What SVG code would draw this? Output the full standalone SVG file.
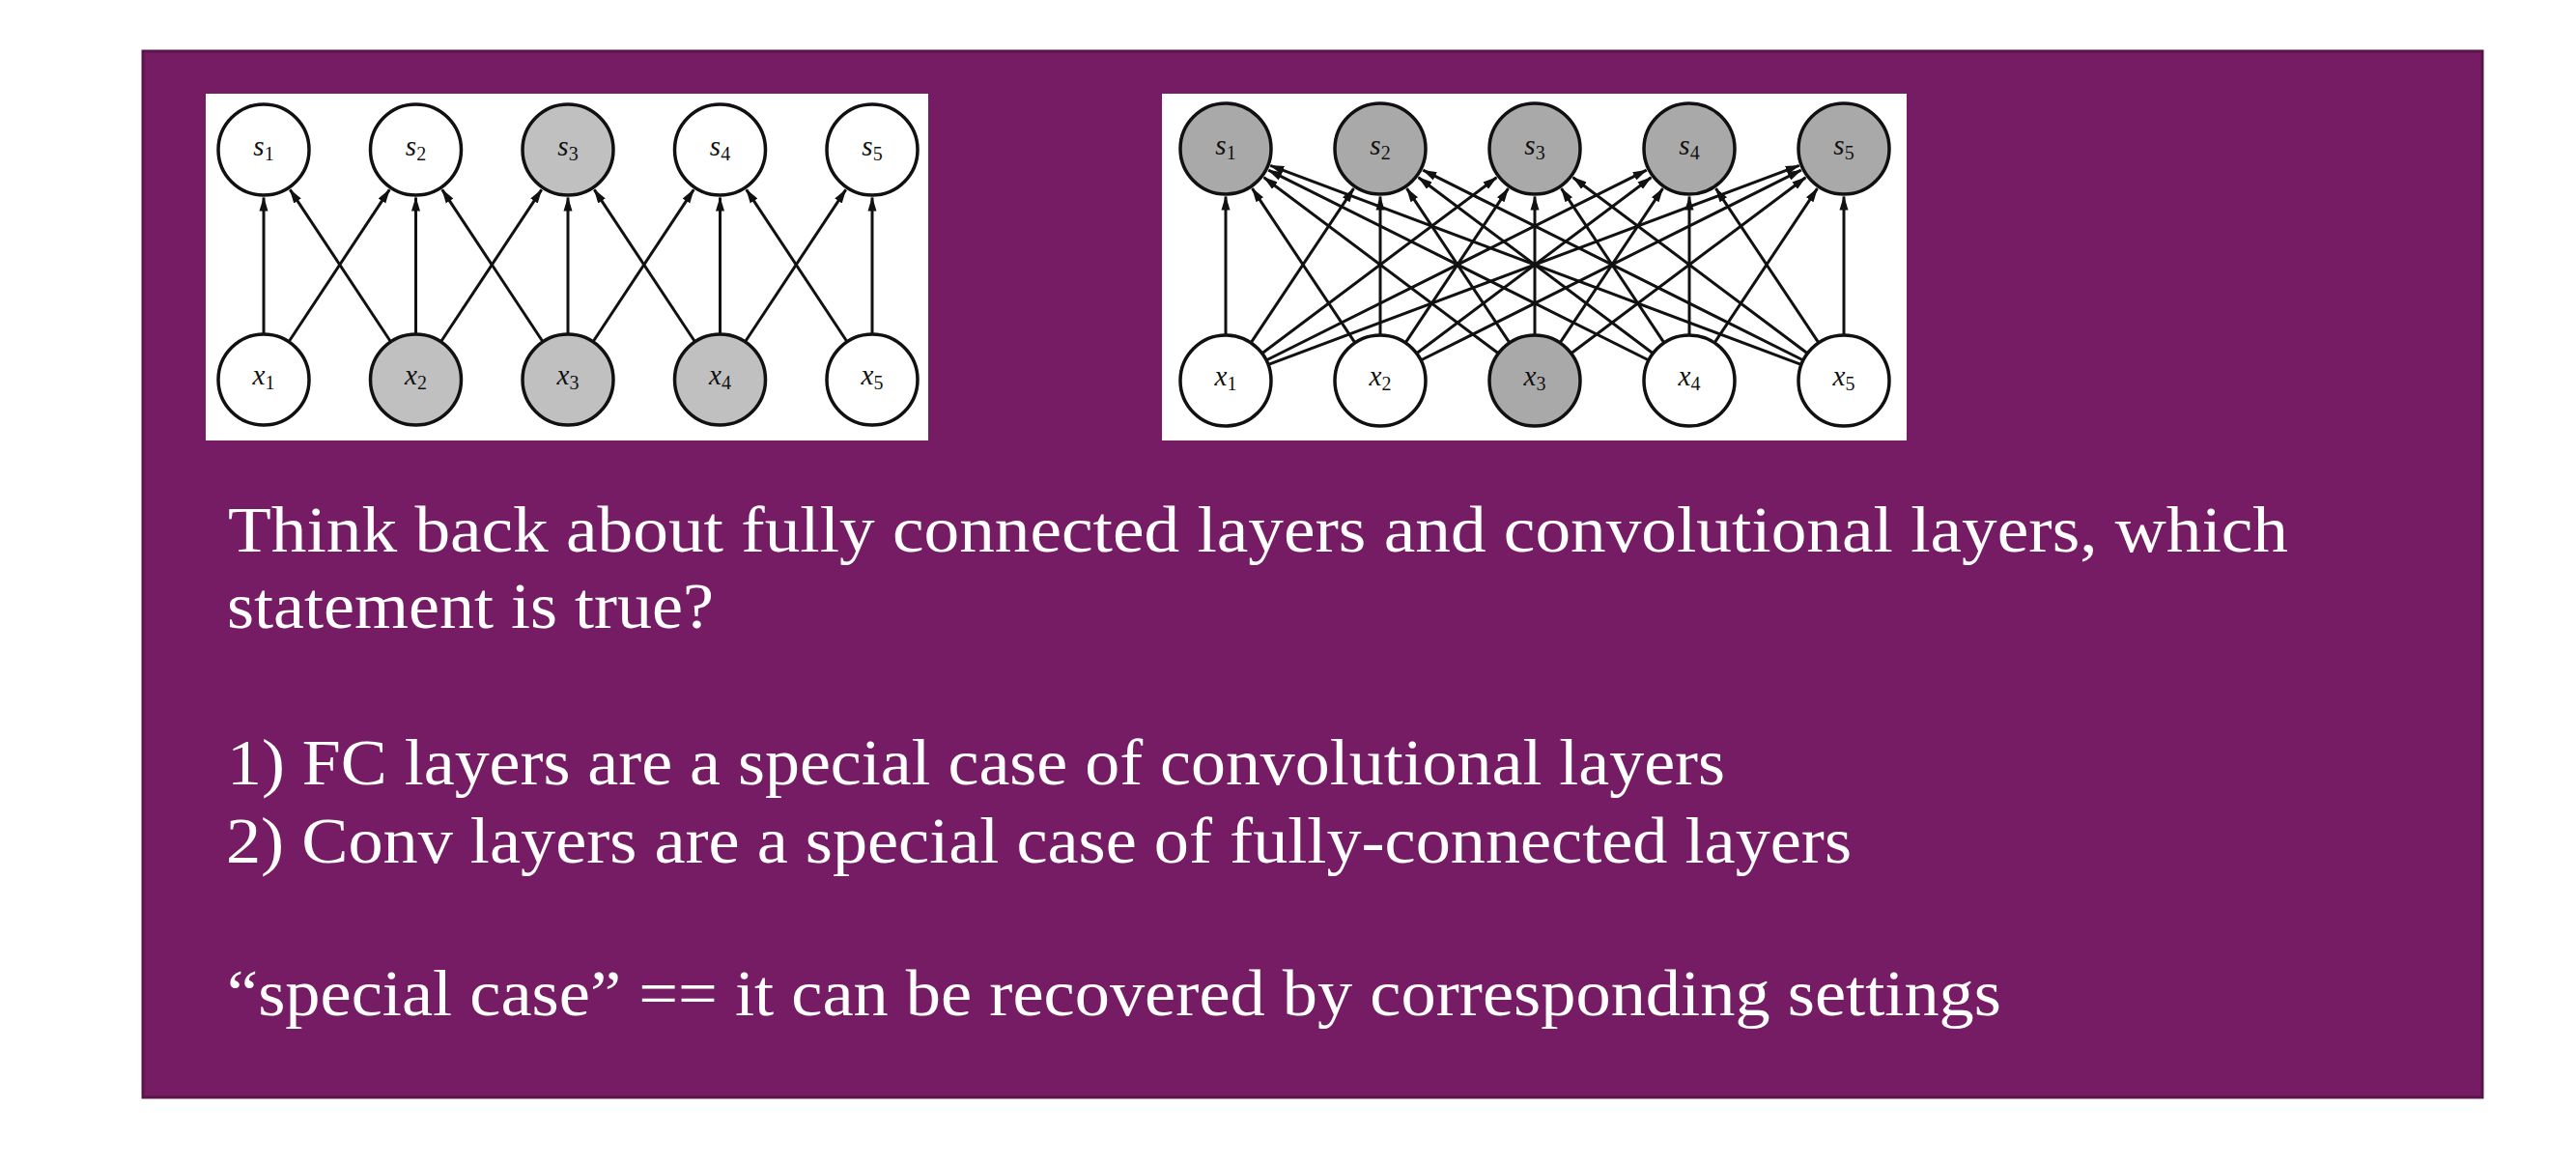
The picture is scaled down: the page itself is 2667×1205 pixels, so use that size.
<svg xmlns="http://www.w3.org/2000/svg" width="2667" height="1205" viewBox="0 0 2667 1205">
<style>
.bg{fill:#761c64;stroke:#5a1449;stroke-width:3}
.panel{fill:#ffffff}
.n{stroke:#111;stroke-width:3.5}
.w{fill:#ffffff}
.g1{fill:#c0c0c0}
.g2{fill:#a9a9a9}
.e line{stroke:#111;stroke-width:3;marker-end:url(#ah)}
.lb{font-family:"Liberation Serif",serif;font-size:29px;fill:#111;text-anchor:middle}
.lb .v{font-style:italic}
.lb .sub{font-size:20px}
.t{font-family:"Liberation Serif",serif;font-size:68px;fill:#ffffff}
</style>
<defs>
<marker id="ah" markerUnits="userSpaceOnUse" markerWidth="15" markerHeight="10" refX="14" refY="5" orient="auto">
<path d="M0,0.5 L15,5 L0,9.5 z" fill="#111"/>
</marker>
</defs>
<rect class="bg" x="148" y="53" width="2422" height="1083"/>

<g id="panel-conv">
<rect class="panel" x="213" y="97" width="748" height="359"/>
<g class="e" id="conv-edges">
<line x1="273" y1="345" x2="273" y2="204.5"/>
<line x1="430.5" y1="345" x2="430.5" y2="204.5"/>
<line x1="588" y1="345" x2="588" y2="204.5"/>
<line x1="745.5" y1="345" x2="745.5" y2="204.5"/>
<line x1="903" y1="345" x2="903" y2="204.5"/>
<line x1="299.5" y1="353" x2="403.2" y2="196.3"/>
<line x1="457" y1="353" x2="560.7" y2="196.3"/>
<line x1="614.5" y1="353" x2="718.2" y2="196.3"/>
<line x1="772" y1="353" x2="875.7" y2="196.3"/>
<line x1="404" y1="353" x2="300.3" y2="196.3"/>
<line x1="561.5" y1="353" x2="457.8" y2="196.3"/>
<line x1="719" y1="353" x2="615.3" y2="196.3"/>
<line x1="876.5" y1="353" x2="772.8" y2="196.3"/>
</g>
<g id="conv-s1"><circle class="n w" cx="273" cy="155" r="47"/><text class="lb" x="273" y="161"><tspan class="v">s</tspan><tspan class="sub" dy="5">1</tspan></text></g>
<g id="conv-s2"><circle class="n w" cx="430.5" cy="155" r="47"/><text class="lb" x="430.5" y="161"><tspan class="v">s</tspan><tspan class="sub" dy="5">2</tspan></text></g>
<g id="conv-s3"><circle class="n g1" cx="588" cy="155" r="47"/><text class="lb" x="588" y="161"><tspan class="v">s</tspan><tspan class="sub" dy="5">3</tspan></text></g>
<g id="conv-s4"><circle class="n w" cx="745.5" cy="155" r="47"/><text class="lb" x="745.5" y="161"><tspan class="v">s</tspan><tspan class="sub" dy="5">4</tspan></text></g>
<g id="conv-s5"><circle class="n w" cx="903" cy="155" r="47"/><text class="lb" x="903" y="161"><tspan class="v">s</tspan><tspan class="sub" dy="5">5</tspan></text></g>
<g id="conv-x1"><circle class="n w" cx="273" cy="393" r="47"/><text class="lb" x="273" y="398"><tspan class="v">x</tspan><tspan class="sub" dy="5">1</tspan></text></g>
<g id="conv-x2"><circle class="n g1" cx="430.5" cy="393" r="47"/><text class="lb" x="430.5" y="398"><tspan class="v">x</tspan><tspan class="sub" dy="5">2</tspan></text></g>
<g id="conv-x3"><circle class="n g1" cx="588" cy="393" r="47"/><text class="lb" x="588" y="398"><tspan class="v">x</tspan><tspan class="sub" dy="5">3</tspan></text></g>
<g id="conv-x4"><circle class="n g1" cx="745.5" cy="393" r="47"/><text class="lb" x="745.5" y="398"><tspan class="v">x</tspan><tspan class="sub" dy="5">4</tspan></text></g>
<g id="conv-x5"><circle class="n w" cx="903" cy="393" r="47"/><text class="lb" x="903" y="398"><tspan class="v">x</tspan><tspan class="sub" dy="5">5</tspan></text></g>
</g>

<g id="panel-fc">
<rect class="panel" x="1203" y="97" width="771" height="359"/>
<g class="e" id="fc-edges">
<line x1="1269" y1="346" x2="1269" y2="203.5"/>
<line x1="1295.6" y1="354.1" x2="1401.5" y2="195.2"/>
<line x1="1307.4" y1="365.2" x2="1549.4" y2="183.7"/>
<line x1="1311.9" y1="372.5" x2="1704.7" y2="176.1"/>
<line x1="1313.9" y1="377.1" x2="1862.7" y2="171.4"/>
<line x1="1402.4" y1="354.1" x2="1296.5" y2="195.2"/>
<line x1="1429" y1="346" x2="1429" y2="203.5"/>
<line x1="1455.6" y1="354.1" x2="1561.5" y2="195.2"/>
<line x1="1467.4" y1="365.2" x2="1709.4" y2="183.7"/>
<line x1="1471.9" y1="372.5" x2="1864.7" y2="176.1"/>
<line x1="1550.6" y1="365.2" x2="1308.6" y2="183.7"/>
<line x1="1562.4" y1="354.1" x2="1456.5" y2="195.2"/>
<line x1="1589" y1="346" x2="1589" y2="203.5"/>
<line x1="1615.6" y1="354.1" x2="1721.5" y2="195.2"/>
<line x1="1627.4" y1="365.2" x2="1869.4" y2="183.7"/>
<line x1="1706.1" y1="372.5" x2="1313.3" y2="176.1"/>
<line x1="1710.6" y1="365.2" x2="1468.6" y2="183.7"/>
<line x1="1722.4" y1="354.1" x2="1616.5" y2="195.2"/>
<line x1="1749" y1="346" x2="1749" y2="203.5"/>
<line x1="1775.6" y1="354.1" x2="1881.5" y2="195.2"/>
<line x1="1864.1" y1="377.1" x2="1315.3" y2="171.4"/>
<line x1="1866.1" y1="372.5" x2="1473.3" y2="176.1"/>
<line x1="1870.6" y1="365.2" x2="1628.6" y2="183.7"/>
<line x1="1882.4" y1="354.1" x2="1776.5" y2="195.2"/>
<line x1="1909" y1="346" x2="1909" y2="203.5"/>
</g>
<g id="fc-s1"><circle class="n g2" cx="1269" cy="154" r="47"/><text class="lb" x="1269" y="160"><tspan class="v">s</tspan><tspan class="sub" dy="5">1</tspan></text></g>
<g id="fc-s2"><circle class="n g2" cx="1429" cy="154" r="47"/><text class="lb" x="1429" y="160"><tspan class="v">s</tspan><tspan class="sub" dy="5">2</tspan></text></g>
<g id="fc-s3"><circle class="n g2" cx="1589" cy="154" r="47"/><text class="lb" x="1589" y="160"><tspan class="v">s</tspan><tspan class="sub" dy="5">3</tspan></text></g>
<g id="fc-s4"><circle class="n g2" cx="1749" cy="154" r="47"/><text class="lb" x="1749" y="160"><tspan class="v">s</tspan><tspan class="sub" dy="5">4</tspan></text></g>
<g id="fc-s5"><circle class="n g2" cx="1909" cy="154" r="47"/><text class="lb" x="1909" y="160"><tspan class="v">s</tspan><tspan class="sub" dy="5">5</tspan></text></g>
<g id="fc-x1"><circle class="n w" cx="1269" cy="394" r="47"/><text class="lb" x="1269" y="399"><tspan class="v">x</tspan><tspan class="sub" dy="5">1</tspan></text></g>
<g id="fc-x2"><circle class="n w" cx="1429" cy="394" r="47"/><text class="lb" x="1429" y="399"><tspan class="v">x</tspan><tspan class="sub" dy="5">2</tspan></text></g>
<g id="fc-x3"><circle class="n g2" cx="1589" cy="394" r="47"/><text class="lb" x="1589" y="399"><tspan class="v">x</tspan><tspan class="sub" dy="5">3</tspan></text></g>
<g id="fc-x4"><circle class="n w" cx="1749" cy="394" r="47"/><text class="lb" x="1749" y="399"><tspan class="v">x</tspan><tspan class="sub" dy="5">4</tspan></text></g>
<g id="fc-x5"><circle class="n w" cx="1909" cy="394" r="47"/><text class="lb" x="1909" y="399"><tspan class="v">x</tspan><tspan class="sub" dy="5">5</tspan></text></g>
</g>

<g id="question">
<text class="t" x="236" y="571" textLength="2133" lengthAdjust="spacingAndGlyphs">Think back about fully connected layers and convolutional layers, which</text>
<text class="t" x="235" y="650" textLength="504" lengthAdjust="spacingAndGlyphs">statement is true?</text>
<text class="t" x="235" y="812" textLength="1551" lengthAdjust="spacingAndGlyphs">1) FC layers are a special case of convolutional layers</text>
<text class="t" x="234" y="893" textLength="1683" lengthAdjust="spacingAndGlyphs">2) Conv layers are a special case of fully-connected layers</text>
<text class="t" x="235" y="1051" textLength="1837" lengthAdjust="spacingAndGlyphs">“special case” == it can be recovered by corresponding settings</text>
</g>
</svg>
